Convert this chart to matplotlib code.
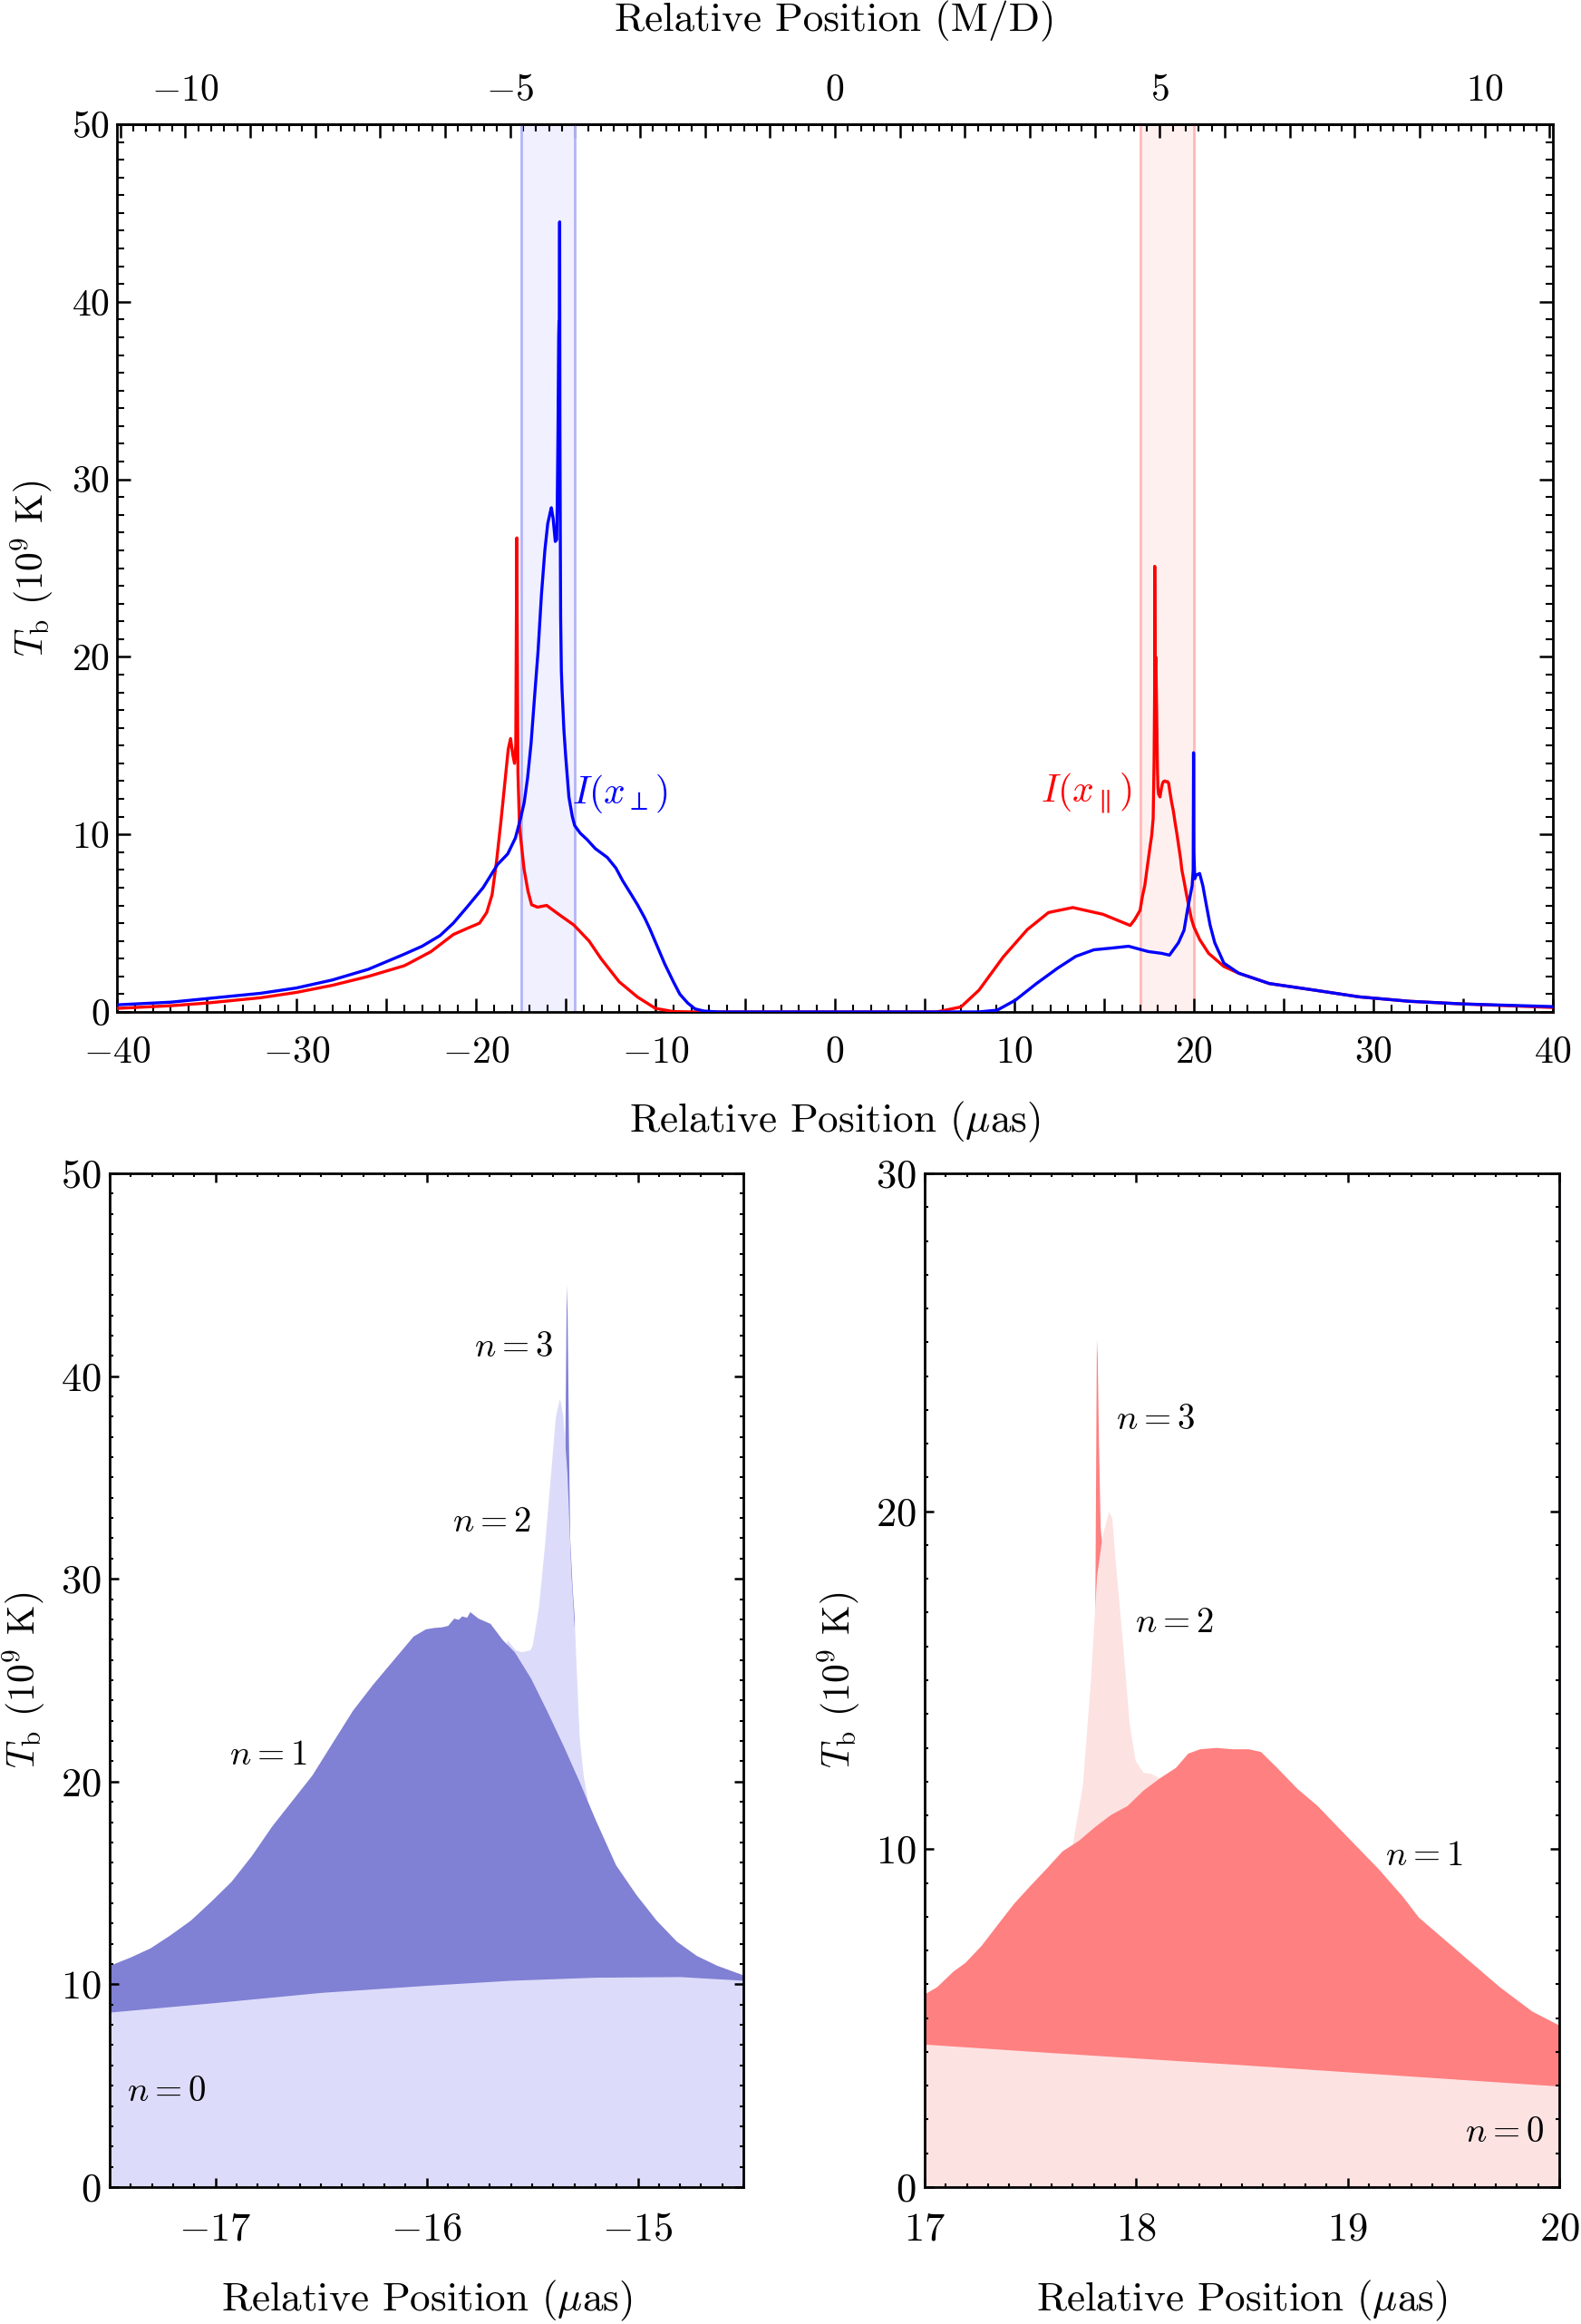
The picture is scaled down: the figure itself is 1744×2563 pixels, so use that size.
import numpy as np
import matplotlib
matplotlib.use('Agg')
import matplotlib.pyplot as plt
from matplotlib.ticker import MultipleLocator, FuncFormatter

# ---------------- data ----------------
MD_SCALE = 3.62  # micro-arcsec per M/D

# Top panel: I(x_perp) (blue)
x_perp = [-40, -37, -35, -32, -30, -28, -26, -24, -23, -22, -21.26, -20.5, -19.6, -18.8,
          -18.23, -17.8, -17.5, -17.31, -17.12, -16.93, -16.73, -16.54, -16.35, -16.16,
          -16.0, -15.87, -15.80, -15.70, -15.58, -15.50, -15.47, -15.43, -15.39, -15.37,
          -15.35, -15.335, -15.32, -15.30, -15.28, -15.24, -15.20, -15.1, -15.0, -14.82,
          -14.63, -14.5, -14.19, -13.8, -13.35, -12.68, -12.2, -11.83, -11.4, -11.0, -10.6,
          -10.32, -9.9, -9.48, -9.0, -8.64, -8.2, -7.79, -7.3, -6.5, 0, 8.0, 9.04, 10.05,
          11.23, 12.4, 13.42, 14.43, 15.44, 16.36, 17.46, 18.2, 18.64, 19.14, 19.45, 19.65,
          19.9, 19.96, 19.98, 20.0, 20.05, 20.12, 20.32, 20.5, 20.66, 20.9, 21.16, 21.67,
          22.5, 24.2, 26.7, 29.2, 32, 35, 40]
I_perp = [0.4, 0.55, 0.75, 1.05, 1.35, 1.8, 2.4, 3.25, 3.7, 4.3, 5.0, 5.9, 7.0, 8.3,
          8.9, 9.8, 10.95, 11.8, 13.2, 15.1, 17.8, 20.3, 23.5, 26.0,
          27.5, 28.1, 28.4, 27.8, 26.5, 26.6, 28.6, 32.5, 38.0, 38.9,
          37.5, 44.5, 33.0, 27.0, 22.2, 19.2, 18.1, 15.9, 14.4, 12.1,
          11.0, 10.5, 10.07, 9.7, 9.2, 8.7, 8.1, 7.4, 6.7, 6.04, 5.3,
          4.7, 3.7, 2.7, 1.7, 1.0, 0.5, 0.17, 0.05, 0.0, 0.0, 0.0, 0.1, 0.66,
          1.6, 2.46, 3.13, 3.5, 3.6, 3.7, 3.4, 3.3, 3.2, 3.9, 4.6, 5.8,
          7.1, 8.0, 14.6, 9.0, 7.5, 7.7, 7.8, 7.1, 6.2, 4.9, 3.9, 2.75,
          2.18, 1.6, 1.23, 0.85, 0.6, 0.45, 0.3]

# Top panel: I(x_par) (red)
x_par = [-40, -37, -35, -32, -30, -28, -26, -24, -23.8, -22.5, -21.26, -20.5, -19.8, -19.4,
         -19.1, -18.85, -18.6, -18.4, -18.2, -18.07, -17.95, -17.85, -17.78, -17.75, -17.72,
         -17.70, -17.66, -17.57, -17.32, -17.1, -16.9, -16.57, -16.06, -15.39, -14.55, -13.7,
         -13.03, -12.02, -11.0, -10.0, -9.0, -8.0, 0, 5.67, 7.02, 8.03, 9.38, 10.72, 11.9,
         13.25, 14.93, 16.45, 16.7, 17.0, 17.13, 17.27, 17.42, 17.57, 17.65, 17.73, 17.78,
         17.81, 17.815, 17.83, 17.84, 17.87, 17.885, 17.90, 17.937, 17.966, 17.995, 18.03,
         18.11, 18.19, 18.24, 18.30, 18.38, 18.45, 18.53, 18.59, 18.66, 18.76, 18.86,
         18.95, 19.05, 19.14, 19.26, 19.33, 19.45, 19.58, 19.72, 19.87, 20.0, 20.32, 20.82,
         21.67, 22.5, 24.2, 26.7, 29.2, 32, 35, 40]
I_par = [0.2, 0.35, 0.5, 0.8, 1.1, 1.5, 2.0, 2.6, 2.7, 3.4, 4.36, 4.7, 5.0, 5.6,
         6.6, 8.5, 10.8, 12.8, 14.8, 15.4, 14.5, 14.0, 15.0, 21.6, 26.7,
         22.0, 13.5, 10.4, 8.05, 6.8, 6.04, 5.9, 6.0, 5.5, 4.9, 4.0,
         3.0, 1.7, 0.84, 0.2, 0.02, 0.0, 0.0, 0.0, 0.28, 1.23, 3.1, 4.64, 5.6,
         5.88, 5.5, 4.87, 5.2, 5.72, 6.5, 7.16, 8.3, 9.4, 9.95, 10.9, 14.0,
         17.9, 25.1, 20.5, 19.3, 20.0, 19.8, 18.6, 16.0, 13.76, 12.63, 12.27,
         12.11, 12.6, 12.84, 12.97, 13.01, 12.97, 12.97, 12.89, 12.42, 11.8, 11.29,
         10.67, 10.05, 9.43, 8.61, 7.99, 7.37, 6.65, 5.93, 5.21, 4.79, 4.08, 3.3,
         2.56, 2.18, 1.6, 1.23, 0.85, 0.6, 0.45, 0.25]

band_perp = [-17.5, -14.5]
band_par = [17.0, 20.0]

# Bottom-left panel: cumulative contributions of n = 0..3 (x_perp side)
xL_n0 = [-17.5, -17.0, -16.5, -16.0, -15.6, -15.2, -14.8, -14.5]
yL_n0 = [8.63, 9.1, 9.6, 9.95, 10.2, 10.35, 10.38, 10.2]
xL_n01 = [-17.5, -17.404, -17.308, -17.213, -17.117, -17.021, -16.925, -16.829, -16.734,
          -16.638, -16.542, -16.446, -16.35, -16.255, -16.159, -16.063, -16.005, -15.965,
          -15.929, -15.90, -15.871, -15.85, -15.833, -15.81, -15.795, -15.756, -15.699,
          -15.641, -15.584, -15.507, -15.431, -15.354, -15.277, -15.2, -15.105, -15.009,
          -14.913, -14.817, -14.722, -14.626, -14.5]
yL_n01 = [10.94, 11.34, 11.8, 12.45, 13.17, 14.1, 15.08, 16.35, 17.79,
          19.06, 20.33, 21.93, 23.52, 24.8, 25.99, 27.18, 27.53, 27.6,
          27.63, 27.7, 28.06, 28.0, 28.17, 28.1, 28.38, 28.06, 27.8,
          27.0, 26.4, 25.1, 23.5, 21.8, 20.0, 18.1, 15.9, 14.44,
          13.17, 12.13, 11.42, 10.94, 10.46]
xL_n012 = [-15.62, -15.58, -15.55, -15.51, -15.50, -15.47, -15.44, -15.41, -15.39, -15.37,
           -15.355, -15.335, -15.316, -15.297, -15.277, -15.258, -15.24]
yL_n012 = [27.0, 26.5, 26.4, 26.5, 26.7, 28.6, 31.8, 35.5, 38.0, 38.9,
           38.1, 35.2, 30.2, 27.0, 22.2, 20.3, 19.2]
xL_n0123 = [-15.345, -15.338, -15.334, -15.328, -15.322, -15.31, -15.30]
yL_n0123 = [36.5, 44.5, 43.0, 37.0, 32.0, 29.5, 28.0]

# Bottom-right panel: cumulative contributions of n = 0..3 (x_par side)
xR_n0 = [17.0, 17.5, 18.0, 18.5, 19.0, 19.5, 20.0]
yR_n0 = [4.23, 4.02, 3.82, 3.62, 3.41, 3.2, 2.99]
xR_n01 = [17.0, 17.057, 17.134, 17.191, 17.268, 17.344, 17.421, 17.497, 17.574, 17.65,
          17.727, 17.804, 17.88, 17.957, 18.033, 18.11, 18.186, 18.244, 18.30, 18.377,
          18.454, 18.53, 18.588, 18.664, 18.76, 18.856, 18.951, 19.047, 19.143, 19.258,
          19.334, 19.449, 19.583, 19.717, 19.87, 20.0]
yR_n01 = [5.72, 5.93, 6.39, 6.65, 7.16, 7.78, 8.4, 8.92, 9.43, 9.95,
          10.26, 10.67, 11.03, 11.29, 11.75, 12.11, 12.42, 12.84, 12.97, 13.01,
          12.97, 12.97, 12.89, 12.42, 11.8, 11.29, 10.67, 10.05, 9.43, 8.61,
          7.99, 7.37, 6.65, 5.93, 5.21, 4.79]
xR_n012 = [17.70, 17.746, 17.784, 17.813, 17.84, 17.87, 17.885, 17.90, 17.937, 17.966,
           17.995, 18.033, 18.07, 18.11]
yR_n012 = [10.2, 11.9, 15.0, 18.1, 19.3, 20.0, 19.8, 18.6, 16.0, 13.76,
           12.63, 12.27, 12.24, 12.1]
xR_n0123 = [17.805, 17.812, 17.816, 17.822, 17.830, 17.838]
yR_n0123 = [17.5, 25.1, 24.5, 22.0, 19.5, 19.0]

# ---------------- styling ----------------
plt.rcParams.update({
    'font.family': 'serif', 'font.serif': ['cmr10'], 'mathtext.fontset': 'cm',
    'axes.formatter.use_mathtext': True, 'font.size': 30,
    'xtick.direction': 'in', 'ytick.direction': 'in',
    'xtick.major.width': 1.8, 'ytick.major.width': 1.8,
    'xtick.minor.width': 1.5, 'ytick.minor.width': 1.5,
    'axes.linewidth': 2.0, 'axes.unicode_minus': False,
})

BLUE = '#0000ff'
RED = '#ff0000'
L_LIGHT, L_DARK = '#dcdcfa', '#8080d4'
R_LIGHT, R_DARK = '#fde2e2', '#ff8080'
XLABEL_FS = 32.5

fig = plt.figure(figsize=(17.44, 25.63), dpi=100)
W, H = 1744.0, 2563.0


def axes_px(l, r, t, b):
    return fig.add_axes([l / W, 1 - b / H, (r - l) / W, (b - t) / H])


def fmt_every(step):
    def f(v, pos):
        if abs(v / step - round(v / step)) < 1e-6:
            return r'$%g$' % round(v, 6)
        return ''
    return FuncFormatter(f)


# ---------------- top panel ----------------
ax = axes_px(129, 1713, 137, 1116)
ax.axvspan(*band_perp, facecolor='#f0f0ff', edgecolor='none', zorder=0)
for xv in band_perp:
    ax.axvline(xv, color='#b4b4f7', lw=2.0, zorder=1)
ax.axvspan(*band_par, facecolor='#fff0f0', edgecolor='none', zorder=0)
for xv in band_par:
    ax.axvline(xv, color='#ffb8b8', lw=2.0, zorder=1)

ax.plot(x_par, I_par, color=RED, lw=2.4, zorder=3)
ax.plot(x_perp, I_perp, color=BLUE, lw=2.4, zorder=4)
ax.set_xlim(-40, 40)
ax.set_ylim(0, 50)
ax.xaxis.set_major_locator(MultipleLocator(5))
ax.xaxis.set_minor_locator(MultipleLocator(1))
ax.xaxis.set_major_formatter(fmt_every(10))
ax.yaxis.set_major_locator(MultipleLocator(10))
ax.yaxis.set_minor_locator(MultipleLocator(1))
ax.yaxis.set_major_formatter(fmt_every(10))
ax.tick_params(which='both', right=True, top=False)
ax.tick_params(which='major', length=11)
ax.tick_params(which='minor', length=5.5)
ax.tick_params(axis='x', which='major', pad=19)
ax.tick_params(axis='y', which='major', pad=6)

sec = ax.secondary_xaxis('top', functions=(lambda x: x / MD_SCALE, lambda m: m * MD_SCALE))
sec.xaxis.set_major_locator(MultipleLocator(1))
sec.xaxis.set_minor_locator(MultipleLocator(0.2))
sec.xaxis.set_major_formatter(fmt_every(5))
sec.tick_params(which='both', direction='in')
sec.tick_params(which='major', length=11, width=1.8, pad=13)
sec.tick_params(which='minor', length=5.5, width=1.5)

ax.text(0.5, 1.116, 'Relative Position (M/D)', transform=ax.transAxes,
        ha='center', va='center', fontsize=XLABEL_FS)
ax.text(0.5, -0.124, r'Relative Position ($\mu$as)', transform=ax.transAxes,
        ha='center', va='center', fontsize=XLABEL_FS)
ax.set_ylabel(r'$T_{\rm b}$ (10$^{9}$ K)', va='center')
ax.yaxis.set_label_coords(-0.059, 0.5)

ax.text(-12.0, 12.3, r'$I(x_{\perp})$', color=BLUE, ha='center', va='center', fontsize=30)
ax.text(14.0, 12.3, r'$I(x_{\parallel})$', color=RED, ha='center', va='center', fontsize=30)


def style_bottom(a, ymax):
    a.set_ylim(0, ymax)
    a.xaxis.set_major_locator(MultipleLocator(1))
    a.xaxis.set_minor_locator(MultipleLocator(0.1))
    a.xaxis.set_major_formatter(fmt_every(1))
    a.yaxis.set_major_locator(MultipleLocator(10))
    a.yaxis.set_minor_locator(MultipleLocator(1))
    a.yaxis.set_major_formatter(fmt_every(10))
    a.tick_params(which='both', right=True, top=True, labelsize=32)
    a.tick_params(which='major', length=7)
    a.tick_params(which='minor', length=3)
    a.tick_params(axis='x', which='major', pad=20)
    a.tick_params(axis='y', which='major', pad=7)
    a.set_ylabel(r'$T_{\rm b}$ (10$^{9}$ K)', va='center')
    a.text(0.5, -0.112, r'Relative Position ($\mu$as)', transform=a.transAxes,
           ha='center', va='center', fontsize=XLABEL_FS)


# ---------------- bottom-left panel ----------------
axL = axes_px(121, 820, 1294, 2412)
axL.fill_between(xL_n0123, yL_n0123, color=L_DARK, lw=0)
axL.fill_between(xL_n012, yL_n012, color=L_LIGHT, lw=0)
axL.fill_between(xL_n01, yL_n01, color=L_DARK, lw=0)
axL.fill_between(xL_n0, yL_n0, color=L_LIGHT, lw=0)
axL.set_xlim(-17.5, -14.5)
style_bottom(axL, 50)
axL.yaxis.set_label_coords(-0.135, 0.5)
for (tx, ty, s) in [(-15.59, 41.4, 3), (-15.69, 32.8, 2), (-16.75, 21.3, 1), (-17.23, 4.7, 0)]:
    axL.text(tx, ty, r'$n=%d$' % s, ha='center', va='center', fontsize=28)

# ---------------- bottom-right panel ----------------
axR = axes_px(1020, 1720, 1294, 2412)
axR.fill_between(xR_n0123, yR_n0123, color=R_DARK, lw=0)
axR.fill_between(xR_n012, yR_n012, color=R_LIGHT, lw=0)
axR.fill_between(xR_n01, yR_n01, color=R_DARK, lw=0)
axR.fill_between(xR_n0, yR_n0, color=R_LIGHT, lw=0)
axR.set_xlim(17, 20)
style_bottom(axR, 30)
axR.yaxis.set_label_coords(-0.135, 0.5)
for (tx, ty, s) in [(18.09, 22.7, 3), (18.18, 16.7, 2), (19.36, 9.8, 1), (19.74, 1.6, 0)]:
    axR.text(tx, ty, r'$n=%d$' % s, ha='center', va='center', fontsize=28)

fig.savefig('out.png', dpi=100)
